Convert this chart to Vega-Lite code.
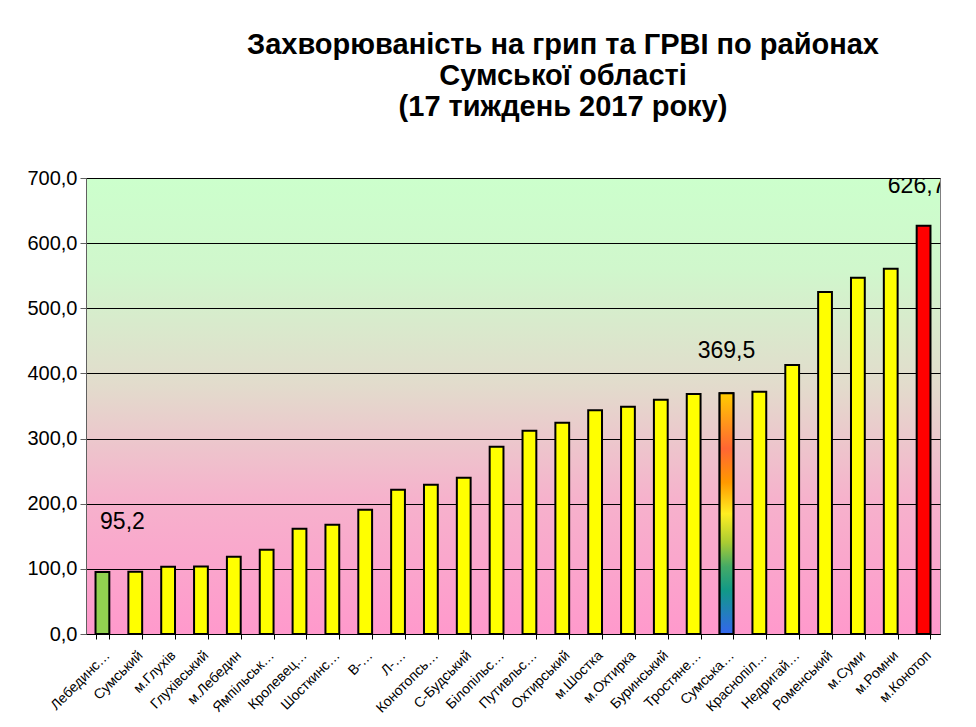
{
  "$schema": "https://vega.github.io/schema/vega-lite/v6.json",
  "width": 854,
  "height": 456,
  "autosize": {"type": "none"},
  "padding": {"left": 86, "top": 178, "right": 36, "bottom": 93},
  "background": "white",
  "title": {
    "text": ["Захворюваність на грип та ГРВІ по районах", "Сумської області", "(17 тиждень 2017 року)"],
    "font": "Liberation Sans",
    "fontSize": 29,
    "fontWeight": "bold",
    "lineHeight": 31,
    "anchor": "middle",
    "dx": 50,
    "offset": 46,
    "color": "black"
  },
  "data": {
    "values": [
      {"name": "Лебединс…", "value": 95.2, "kind": "min"},
      {"name": "Сумський", "value": 95.5, "kind": "normal"},
      {"name": "м.Глухів", "value": 103.3, "kind": "normal"},
      {"name": "Глухівський", "value": 103.6, "kind": "normal"},
      {"name": "м.Лебедин", "value": 118.7, "kind": "normal"},
      {"name": "Ямпільськ…", "value": 129.4, "kind": "normal"},
      {"name": "Кролевец…", "value": 161.7, "kind": "normal"},
      {"name": "Шосткинс…", "value": 167.8, "kind": "normal"},
      {"name": "В-…", "value": 190.8, "kind": "normal"},
      {"name": "Л-…", "value": 221.5, "kind": "normal"},
      {"name": "Конотопсь…", "value": 229.2, "kind": "normal"},
      {"name": "С-Будський", "value": 240.0, "kind": "normal"},
      {"name": "Білопільс…", "value": 287.6, "kind": "normal"},
      {"name": "Путивльс…", "value": 312.1, "kind": "normal"},
      {"name": "Охтирський", "value": 324.4, "kind": "normal"},
      {"name": "м.Шостка", "value": 343.3, "kind": "normal"},
      {"name": "м.Охтирка", "value": 349.0, "kind": "normal"},
      {"name": "Буринський", "value": 359.7, "kind": "normal"},
      {"name": "Тростяне…", "value": 368.4, "kind": "normal"},
      {"name": "Сумська…", "value": 369.5, "kind": "oblast"},
      {"name": "Краснопіл…", "value": 372.0, "kind": "normal"},
      {"name": "Недригай…", "value": 413.0, "kind": "normal"},
      {"name": "Роменський", "value": 525.0, "kind": "normal"},
      {"name": "м.Суми", "value": 547.0, "kind": "normal"},
      {"name": "м.Ромни", "value": 560.8, "kind": "normal"},
      {"name": "м.Конотоп", "value": 626.7, "kind": "max"}
    ]
  },
  "encoding": {
    "x": {
      "field": "name",
      "type": "nominal",
      "sort": null,
      "scale": {"paddingInner": 0.58, "paddingOuter": 0.29},
      "axis": {
        "title": null,
        "labelAngle": -45,
        "labelAlign": "right",
        "labelBaseline": "top",
        "labelFont": "Liberation Sans",
        "labelFontSize": 14,
        "labelColor": "black",
        "labelPadding": 9,
        "labelLimit": 200,
        "tickBand": "extent",
        "tickColor": "black",
        "tickSize": 5,
        "domainColor": "black",
        "grid": false
      }
    },
    "y": {
      "field": "value",
      "type": "quantitative",
      "scale": {"domain": [0, 700], "nice": false},
      "axis": {
        "title": null,
        "values": [0, 100, 200, 300, 400, 500, 600, 700],
        "labelExpr": "replace(format(datum.value, '.1f'), '.', ',')",
        "labelFont": "Liberation Sans",
        "labelFontSize": 20,
        "labelColor": "black",
        "labelPadding": 3,
        "tickColor": "#606060",
        "tickSize": 6,
        "domainColor": "#606060",
        "grid": true,
        "gridColor": "black",
        "gridWidth": 1,
        "gridOpacity": 1
      }
    }
  },
  "layer": [
    {
      "mark": {"type": "bar", "stroke": "black", "strokeWidth": 2},
      "encoding": {
        "color": {
          "field": "kind",
          "type": "nominal",
          "scale": {"domain": ["min", "normal", "oblast", "max"], "range": ["#92d050", "#ffff00", "#ffff00", "#ff0000"]},
          "legend": null
        }
      }
    },
    {
      "transform": [{"filter": "datum.kind === 'oblast'"}],
      "mark": {
        "type": "bar",
        "stroke": "black",
        "strokeWidth": 2,
        "color": {
          "gradient": "linear",
          "x1": 0, "y1": 0, "x2": 0, "y2": 1,
          "stops": [
            {"offset": 0, "color": "#ffcc00"},
            {"offset": 0.23, "color": "#ff6633"},
            {"offset": 0.37, "color": "#ff9900"},
            {"offset": 0.5, "color": "#ffee22"},
            {"offset": 0.62, "color": "#aacc33"},
            {"offset": 0.72, "color": "#44aa66"},
            {"offset": 0.82, "color": "#119988"},
            {"offset": 1, "color": "#3366ee"}
          ]
        }
      }
    },
    {
      "transform": [{"filter": "datum.kind === 'oblast'"}],
      "mark": {"type": "text", "font": "Liberation Sans", "fontSize": 23, "baseline": "middle", "dy": -42, "color": "black"},
      "encoding": {"text": {"field": "value", "type": "quantitative", "format": ".1f"}}
    },
    {
      "transform": [{"filter": "datum.kind === 'max'"}],
      "mark": {"type": "text", "font": "Liberation Sans", "fontSize": 23, "baseline": "middle", "dy": -40, "dx": -7, "color": "black", "clip": true},
      "encoding": {"text": {"field": "value", "type": "quantitative", "format": ".1f"}}
    },
    {
      "transform": [{"filter": "datum.kind === 'min'"}],
      "mark": {"type": "text", "font": "Liberation Sans", "fontSize": 23, "baseline": "middle", "dy": -50, "dx": 20, "color": "black"},
      "encoding": {"text": {"field": "value", "type": "quantitative", "format": ".1f"}}
    }
  ],
  "config": {
    "locale": {"number": {"decimal": ",", "thousands": " ", "grouping": [3], "currency": ["", ""]}},
    "view": {
      "stroke": "#808080",
      "strokeWidth": 1,
      "fill": {
        "gradient": "linear",
        "x1": 0, "y1": 0, "x2": 0, "y2": 1,
        "stops": [
          {"offset": 0, "color": "#ccffcc"},
          {"offset": 0.2, "color": "#d0f7cc"},
          {"offset": 0.45, "color": "#e2dccc"},
          {"offset": 0.7, "color": "#f6b2cc"},
          {"offset": 1, "color": "#ff99cc"}
        ]
      }
    }
  }
}
